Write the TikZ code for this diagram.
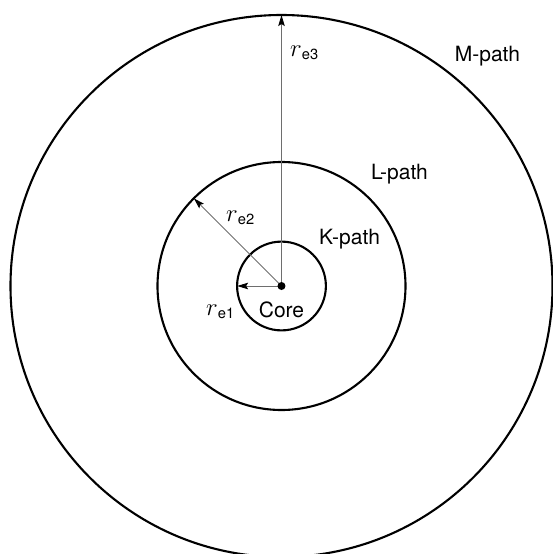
\documentclass[tikz,border=0pt]{standalone}
\usepackage{fontspec}
\setmainfont{TeX Gyre Heros}
\usetikzlibrary{arrows.meta}
\definecolor{ink}{HTML}{000000}
\definecolor{mutedink}{HTML}{6E6E6E}
\newcommand{\radlbl}[1]{{\fontsize{26}{30}\selectfont$r$}\textsubscript{#1}}

\begin{document}
\begin{tikzpicture}[x=1pt,y=1pt,
    shell/.style={circle,draw=ink,line width=2.1pt,inner sep=0pt,outer sep=0pt},
    radius/.style={mutedink,line width=0.9pt,-{Stealth[length=11pt,width=6.5pt,inset=2pt,ink]}},
    lbl/.style={font=\fontsize{21}{25}\selectfont,inner sep=0pt}]
  \useasboundingbox (-281.5,-268) rectangle (270.5,286);
  % shells round the core
  \coordinate (core) at (0,0);
  \node[shell,minimum size=88.8pt] (kshell) at (core) {};
  \node[shell,minimum size=248pt] (lshell) at (core) {};
  \node[shell,minimum size=542pt] (mshell) at (core) {};
  % radii
  \draw[radius] (core) -- (kshell.west);
  \draw[radius] (core) -- (lshell.135);
  \draw[radius] (core) -- (mshell.north);
  \fill[ink] (core) circle (4pt);
  % labels
  \node[lbl] (mpath) at (206,230) {M-path};
  \node[lbl] (lpath) at (118,112) {L-path};
  \node[lbl] (kpath) at (68,47) {K-path};
  \node[lbl] (corelbl) at (0,-24) {Core};
  \node[lbl] (re3) at (23,233) {\radlbl{e3}};
  \node[lbl] (re2) at (-41,68) {\radlbl{e2}};
  \node[lbl] (re1) at (-61,-26) {\radlbl{e1}};
\end{tikzpicture}
\end{document}
